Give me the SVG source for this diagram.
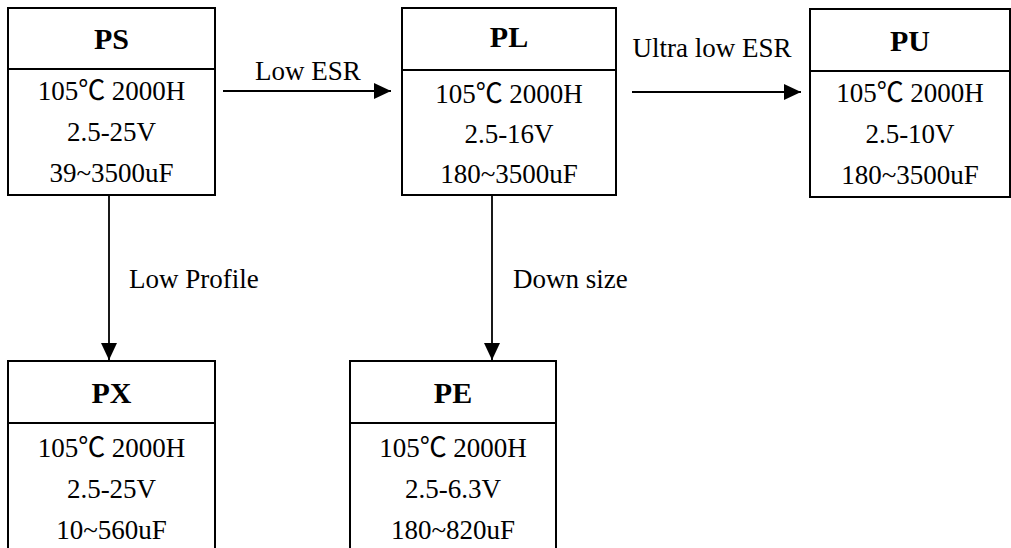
<svg xmlns="http://www.w3.org/2000/svg" width="1011" height="548" viewBox="0 0 1011 548">
<style>
.box{fill:#fff;stroke:#000;stroke-width:2}
.div{stroke:#000;stroke-width:2}
.t{font-family:"Liberation Serif","Times New Roman","Noto Sans CJK SC",serif;font-size:30px;font-weight:bold;text-anchor:middle;fill:#000}
.b{font-family:"Liberation Serif","Times New Roman","Noto Sans CJK SC",serif;font-size:27px;text-anchor:middle;fill:#000}
.l{font-family:"Liberation Serif","Times New Roman",serif;font-size:27px;fill:#000}
.c{stroke:#000;stroke-width:1.8;fill:none}
</style>
<defs>
<marker id="ah" markerWidth="17" markerHeight="16" refX="17" refY="8" orient="auto" markerUnits="userSpaceOnUse">
<path d="M0,0 L17,8 L0,16 Z" fill="#000"/>
</marker>
</defs>
<g id="connectors">
<line class="c" x1="223" y1="91" x2="391" y2="91" marker-end="url(#ah)"/>
<text class="l" x="308" y="80" text-anchor="middle">Low ESR</text>
<line class="c" x1="632" y1="92" x2="801" y2="92" marker-end="url(#ah)"/>
<text class="l" x="712" y="57" text-anchor="middle">Ultra low ESR</text>
<line class="c" x1="109" y1="195" x2="109" y2="360" marker-end="url(#ah)"/>
<text class="l" x="129" y="288">Low Profile</text>
<line class="c" x1="492" y1="196" x2="492" y2="360" marker-end="url(#ah)"/>
<text class="l" x="513" y="288">Down size</text>
</g>
<g id="PS">
<rect class="box" x="8" y="8" width="207" height="187"/>
<line class="div" x1="8" y1="69" x2="215" y2="69"/>
<text class="t" x="111.5" y="49">PS</text>
<text class="b" x="111.5" y="100">105℃ 2000H</text>
<text class="b" x="111.5" y="141">2.5-25V</text>
<text class="b" x="111.5" y="182">39~3500uF</text>
</g>
<g id="PL">
<rect class="box" x="402" y="8" width="214" height="187"/>
<line class="div" x1="402" y1="70" x2="616" y2="70"/>
<text class="t" x="509" y="47">PL</text>
<text class="b" x="509" y="103">105℃ 2000H</text>
<text class="b" x="509" y="143">2.5-16V</text>
<text class="b" x="509" y="183">180~3500uF</text>
</g>
<g id="PU">
<rect class="box" x="810" y="9" width="200" height="188"/>
<line class="div" x1="810" y1="71" x2="1010" y2="71"/>
<text class="t" x="910" y="51">PU</text>
<text class="b" x="910" y="102">105℃ 2000H</text>
<text class="b" x="910" y="143">2.5-10V</text>
<text class="b" x="910" y="184">180~3500uF</text>
</g>
<g id="PX">
<rect class="box" x="8" y="361" width="207" height="200"/>
<line class="div" x1="8" y1="423" x2="215" y2="423"/>
<text class="t" x="111.5" y="403">PX</text>
<text class="b" x="111.5" y="457">105℃ 2000H</text>
<text class="b" x="111.5" y="498">2.5-25V</text>
<text class="b" x="111.5" y="539">10~560uF</text>
</g>
<g id="PE">
<rect class="box" x="350" y="361" width="206" height="200"/>
<line class="div" x1="350" y1="423" x2="556" y2="423"/>
<text class="t" x="453" y="403">PE</text>
<text class="b" x="453" y="457">105℃ 2000H</text>
<text class="b" x="453" y="498">2.5-6.3V</text>
<text class="b" x="453" y="539">180~820uF</text>
</g>
</svg>
